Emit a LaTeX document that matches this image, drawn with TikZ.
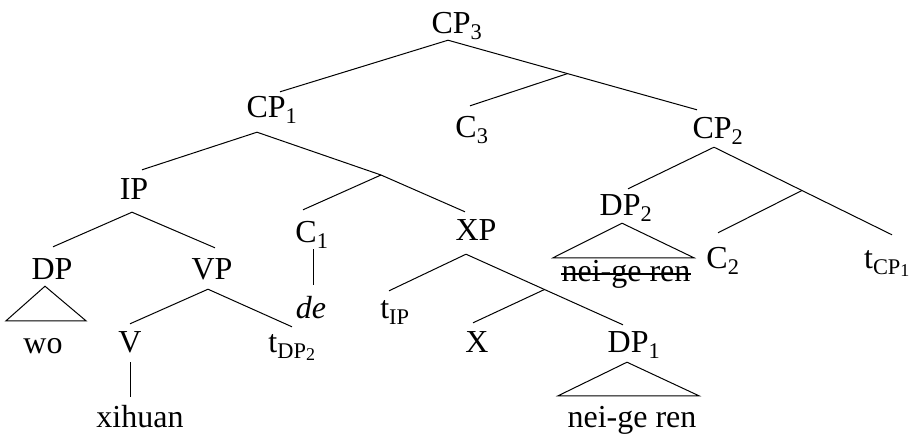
\documentclass[tikz,border=0pt]{standalone}
\usepackage{fontspec}
\setmainfont{Liberation Serif}
\newcommand{\subsub}[1]{\raisebox{-2pt}{\fontsize{18}{18}\selectfont #1}}
\tikzset{
  lab/.style={anchor=base,inner sep=0pt,text height=30pt,text depth=10pt,font=\fontsize{32}{38}\selectfont},
  branch/.style={line width=1pt},
  roof/.style={line width=1pt,line join=miter},
  strikeout/.style={line width=1.1pt}
}

\begin{document}
\begin{tikzpicture}[x=1pt,y=-1pt]
  \useasboundingbox (0,0) rectangle (909,437);

  \node[lab] (cp3) at (457,33) {CP\textsubscript{3}};
  \node[lab] (cp1) at (272,117) {CP\textsubscript{1}};
  \node[lab] (c3) at (472,137) {C\textsubscript{3}};
  \node[lab] (cp2) at (718,138) {CP\textsubscript{2}};
  \node[lab] (ip) at (134,199) {IP};
  \node[lab] (c1) at (312,242) {C\textsubscript{1}};
  \node[lab] (xp) at (476,240) {XP};
  \node[lab] (dp2) at (626,215) {DP\textsubscript{2}};
  \node[lab] (c2) at (723,268) {C\textsubscript{2}};
  \node[lab] (tcp) at (887,268) {t\textsubscript{CP\subsub{1}}};
  \node[lab] (dp) at (52,279) {DP};
  \node[lab] (vp) at (212,279) {VP};
  \node[lab] (de) at (311,318) {\itshape de};
  \node[lab] (tip) at (395,318) {t\textsubscript{IP}};
  \node[lab] (wo) at (43,353) {wo};
  \node[lab] (v) at (130,352) {V};
  \node[lab] (tdp) at (292,352) {t\textsubscript{DP\subsub{2}}};
  \node[lab] (x) at (477,352) {X};
  \node[lab] (dp1) at (634,352) {DP\textsubscript{1}};
  \node[lab] (xih) at (140,427) {xihuan};
  \node[lab] (neige) at (632,427) {nei-ge ren};
  \node[lab] (neiges) at (626,281) {nei-ge ren};
  \draw[strikeout] ([yshift=7pt]neiges.base west) -- ([yshift=7pt]neiges.base east);

  % CP3
  \draw[branch] ([xshift=-9pt,yshift=3pt]cp3.south) -- ([xshift=8pt,yshift=-5pt]cp1.north);
  \draw[branch] ([xshift=-9pt,yshift=3pt]cp3.south) -- coordinate[pos=.48] (cbar3) ([xshift=-21pt,yshift=-2pt]cp2.north);
  \draw[branch] (cbar3) -- ([xshift=-2pt,yshift=1pt]c3.north);

  % CP1
  \coordinate (cbar1) at (381,175);
  \draw[branch] ([xshift=-15pt,yshift=-5pt]cp1.south) -- ([xshift=8pt,yshift=-1pt]ip.north);
  \draw[branch] ([xshift=-15pt,yshift=-5pt]cp1.south) -- (cbar1);
  \draw[branch] (cbar1) -- ([xshift=-9pt,yshift=2pt]c1.north);
  \draw[branch] (cbar1) -- ([xshift=-11pt,yshift=-2pt]xp.north);

  % IP
  \draw[branch] ([xshift=-2pt,yshift=-3pt]ip.south) -- ([xshift=1pt,yshift=2pt]dp.north);
  \draw[branch] ([xshift=-2pt,yshift=-3pt]ip.south) -- ([xshift=3pt,yshift=1pt]vp.north);
  \draw[roof] ([xshift=-7pt,yshift=3pt]dp.south) -- ([xshift=-37pt,yshift=2pt]wo.north) -- ([xshift=43pt,yshift=2pt]wo.north) -- cycle;
  \draw[branch] ([xshift=-4pt]vp.south) -- ([yshift=-2pt]v.north);
  \draw[branch] ([xshift=-4pt]vp.south) -- ([yshift=-5pt]tdp.north);
  \draw[branch] (v.south) -- ([xshift=-10pt]xih.north);

  % C1, XP
  \draw[branch] ([xshift=1pt,yshift=3pt]c1.south) -- ([xshift=2pt,yshift=3pt]de.north);
  \draw[branch] ([xshift=-10pt,yshift=-4pt]xp.south) -- ([xshift=-6pt,yshift=-3pt]tip.north);
  \draw[branch] ([xshift=-10pt,yshift=-4pt]xp.south) -- coordinate[pos=.5] (xbar) ([xshift=-11pt,yshift=-3pt]dp1.north);
  \draw[branch] (xbar) -- ([xshift=-4pt,yshift=-1pt]x.north);
  \draw[roof] ([xshift=-7pt]dp1.south) -- ([xshift=-74pt,yshift=1pt]neige.north) -- ([xshift=67pt,yshift=1pt]neige.north) -- cycle;

  % CP2
  \draw[branch] ([xshift=-4pt,yshift=1pt]cp2.south) -- ([xshift=2pt,yshift=-4pt]dp2.north);
  \draw[branch] ([xshift=-4pt,yshift=1pt]cp2.south) -- coordinate[pos=.494] (cbar2) ([xshift=5pt,yshift=3pt]tcp.north);
  \draw[branch] (cbar2) -- ([xshift=-5pt,yshift=5pt]c2.north);
  \draw[roof] ([xshift=-4pt,yshift=2pt]dp2.south) -- ([xshift=-73pt,yshift=-7pt]neiges.north) -- ([xshift=68pt,yshift=-7pt]neiges.north) -- cycle;
\end{tikzpicture}
\end{document}
